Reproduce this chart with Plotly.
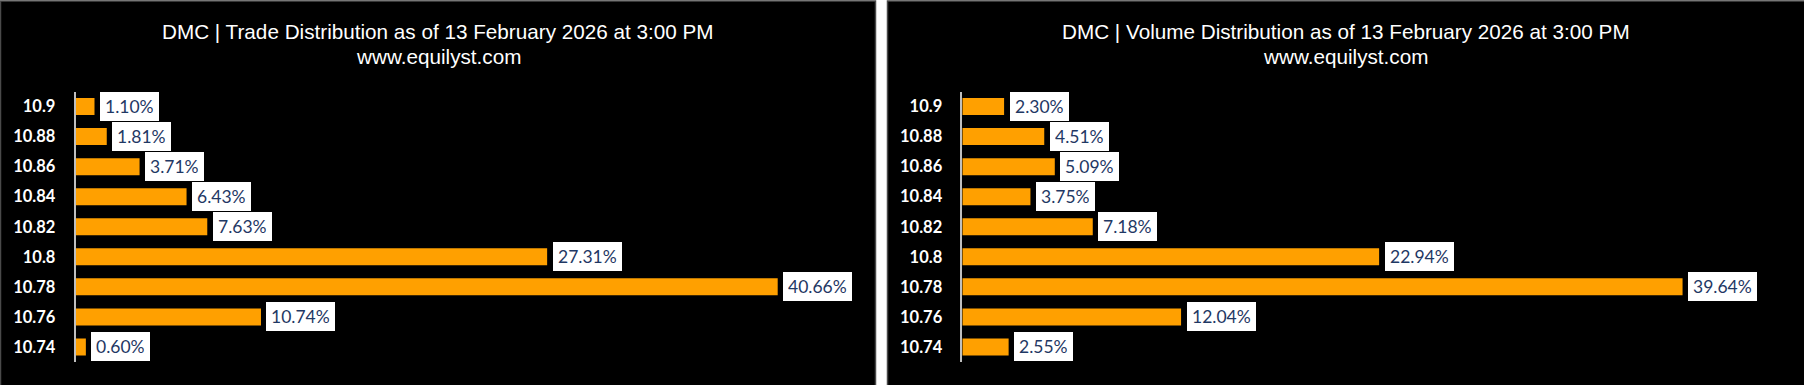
import plotly.graph_objects as go

W, H = 1804, 385

prices = ["10.9", "10.88", "10.86", "10.84", "10.82", "10.8", "10.78", "10.76", "10.74"]
trade_pct = [1.10, 1.81, 3.71, 6.43, 7.63, 27.31, 40.66, 10.74, 0.60]
volume_pct = [2.30, 4.51, 5.09, 3.75, 7.18, 22.94, 39.64, 12.04, 2.55]

title_left = "DMC | Trade Distribution as of 13 February 2026 at 3:00 PM"
title_right = "DMC | Volume Distribution as of 13 February 2026 at 3:00 PM"
subtitle = "www.equilyst.com"

BAR = "#FFA000"
LABEL = "#1F3864"


def fx(px):
    return px / W


def fy(py):
    return 1 - py / H


fig = go.Figure()
fig.add_trace(go.Bar(x=trade_pct, y=prices, orientation="h", marker=dict(color=BAR, line=dict(width=0)),
                     xaxis="x", yaxis="y", hoverinfo="skip"))
fig.add_trace(go.Bar(x=volume_pct, y=prices, orientation="h", marker=dict(color=BAR, line=dict(width=0)),
                     xaxis="x2", yaxis="y2", hoverinfo="skip"))

annotations = []
for vals, xr, yr in ((trade_pct, "x", "y"), (volume_pct, "x2", "y2")):
    for i, v in enumerate(vals):
        annotations.append(dict(
            x=v, y=i, xref=xr, yref=yr, text=f"{v:.2f}%", showarrow=False,
            xanchor="left", yanchor="middle", xshift=5.5, height=19,
            bgcolor="white", borderpad=5, borderwidth=0,
            font=dict(family="Lato", size=17.5, color=LABEL),
        ))

for cx, t in ((438, title_left), (1345.5, title_right)):
    annotations.append(dict(x=fx(cx), y=fy(31), xref="paper", yref="paper", text=t, showarrow=False,
                            xanchor="center", yanchor="middle",
                            font=dict(family="Liberation Sans, Arial", size=20.7, color="white")))
    annotations.append(dict(x=fx(cx), y=fy(57), xref="paper", yref="paper", text=subtitle, showarrow=False,
                            xanchor="center", yanchor="middle",
                            font=dict(family="Liberation Sans, Arial", size=20.7, color="white")))

shapes = [
    dict(type="rect", xref="paper", yref="paper", x0=fx(0.5), x1=fx(875.5), y0=fy(H + 2), y1=fy(1),
         fillcolor="black", line=dict(color="#4a4a4a", width=1.5), layer="below"),
    dict(type="rect", xref="paper", yref="paper", x0=fx(887.5), x1=fx(1805), y0=fy(H + 2), y1=fy(1),
         fillcolor="black", line=dict(color="#4a4a4a", width=1.5), layer="below"),
]

ydom = [fy(362), fy(91.5)]
yaxis_common = dict(type="category", range=[len(prices) - 0.5, -0.5], autorange=False,
                    categoryorder="array", categoryarray=prices,
                    domain=ydom, showgrid=False, zeroline=False,
                    showline=True, linecolor="#BFBFBF", linewidth=1.5, ticks="",
                    ticklabelstandoff=15, fixedrange=True,
                    tickfont=dict(family="Lato", size=16.5, color="white", weight="bold"))
xaxis_common = dict(range=[0, 45], autorange=False, showgrid=False, zeroline=False, showline=False,
                    showticklabels=False, ticks="", fixedrange=True)

fig.update_layout(
    width=W, height=H,
    margin=dict(l=0, r=0, t=0, b=0),
    paper_bgcolor="white",
    plot_bgcolor="rgba(0,0,0,0)",
    showlegend=False,
    bargap=0.435,
    xaxis=dict(xaxis_common, domain=[fx(75.5), fx(75.5 + 45 * 17.27)], anchor="y"),
    yaxis=dict(yaxis_common, anchor="x"),
    xaxis2=dict(xaxis_common, domain=[fx(962.3), fx(962.3 + 45 * 18.17)], anchor="y2"),
    yaxis2=dict(yaxis_common, anchor="x2"),
    annotations=annotations,
    shapes=shapes,
)

fig.write_html(
    "out.html",
    config={"displayModeBar": False},
    post_script="document.body.style.margin='0';document.body.style.padding='0';document.body.style.overflow='hidden';",
)
